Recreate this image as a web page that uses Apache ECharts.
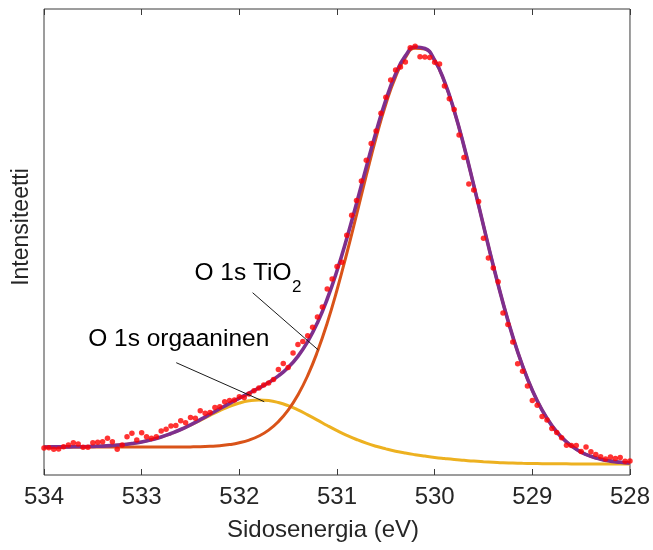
<!DOCTYPE html>
<html>
<head>
<meta charset="utf-8">
<script src="https://cdn.jsdelivr.net/npm/echarts@6/dist/echarts.min.js"></script>
<style>
  html, body { margin: 0; padding: 0; background: #ffffff; }
  #chart { width: 653px; height: 550px; }
</style>
</head>
<body>
<div id="chart"></div>
<script>
// O 1s spectrum: binding energy axis (eV), shown high -> low
const xMin = 528;
const xMax = 534;
const xTickStep = 1;
const yMax = 466; // intensity, arbitrary units

// Binding energies of the fitted curves (eV)
const fitEnergy = [
  534.0, 533.9, 533.8, 533.7, 533.6, 533.5, 533.4, 533.3, 533.2, 533.1, 533.0,
  532.9, 532.8, 532.7, 532.6, 532.5, 532.4, 532.3, 532.2, 532.1, 532.0,
  531.9, 531.8, 531.7, 531.6, 531.5, 531.4, 531.3, 531.2, 531.1, 531.0,
  530.9, 530.8, 530.7, 530.6, 530.5, 530.4, 530.3, 530.2, 530.1, 530.0,
  529.9, 529.8, 529.7, 529.6, 529.5, 529.4, 529.3, 529.2, 529.1, 529.0,
  528.9, 528.8, 528.7, 528.6, 528.5, 528.4, 528.3, 528.2, 528.1, 528.0
];

// Organic oxygen component on top of the background
const organicFit = [
  28.0, 28.1, 28.1, 28.2, 28.3, 28.6, 28.9, 29.5, 30.3, 31.5, 33.1,
  35.3, 38.0, 41.4, 45.4, 49.9, 54.7, 59.7, 64.4, 68.7, 72.0,
  74.2, 75.1, 74.5, 72.5, 69.3, 65.1, 60.1, 54.9, 49.5, 44.4,
  39.7, 35.5, 31.8, 28.7, 26.1, 23.8, 21.9, 20.3, 18.9, 17.6,
  16.5, 15.5, 14.7, 13.9, 13.3, 12.8, 12.3, 12.0, 11.7, 11.5,
  11.3, 11.2, 11.2, 11.1, 11.1, 11.0, 11.0, 11.0, 11.0, 11.0
];

// Lattice oxygen (TiO2) component on top of the background
const tio2Fit = [
  28.0, 28.0, 28.0, 28.0, 28.0, 28.0, 28.0, 28.0, 28.0, 28.0, 28.0,
  28.0, 28.0, 28.0, 28.0, 28.1, 28.3, 28.7, 29.3, 30.4, 32.2,
  34.9, 39.0, 44.9, 53.4, 64.8, 80.0, 99.4, 123.4, 152.0, 185.0,
  221.5, 260.2, 299.5, 337.1, 370.7, 398.2, 417.3, 426.8, 425.9, 414.4,
  393.3, 364.2, 328.9, 289.9, 249.4, 209.5, 172.1, 138.4, 109.2, 84.7,
  64.9, 49.4, 37.7, 29.1, 22.9, 18.7, 15.8, 13.9, 12.7, 12.0
];

// Sum of both components (fit envelope)
const envelopeFit = [
  28.0, 28.1, 28.1, 28.2, 28.3, 28.6, 28.9, 29.5, 30.3, 31.5, 33.1,
  35.3, 38.0, 41.5, 45.5, 50.2, 55.3, 60.7, 66.2, 71.6, 76.8,
  81.9, 87.0, 92.5, 99.1, 107.5, 118.7, 133.4, 152.3, 176.0, 204.2,
  236.5, 271.6, 307.8, 343.0, 374.8, 400.9, 419.1, 428.0, 426.5, 414.8,
  393.6, 364.3, 329.0, 289.9, 249.4, 209.5, 172.1, 138.4, 109.2, 84.7,
  64.9, 49.4, 37.7, 29.1, 22.9, 18.7, 15.8, 13.9, 12.7, 12.0
];

// Measured spectrum, 0.05 eV steps
const measEnergy = [
  534.00, 533.95, 533.90, 533.85, 533.80, 533.75, 533.70, 533.65, 533.60, 533.55,
  533.50, 533.45, 533.40, 533.35, 533.30, 533.25, 533.20, 533.15, 533.10, 533.05,
  533.00, 532.95, 532.90, 532.85, 532.80, 532.75, 532.70, 532.65, 532.60, 532.55,
  532.50, 532.45, 532.40, 532.35, 532.30, 532.25, 532.20, 532.15, 532.10, 532.05,
  532.00, 531.95, 531.90, 531.85, 531.80, 531.75, 531.70, 531.65, 531.60, 531.55,
  531.50, 531.45, 531.40, 531.35, 531.30, 531.25, 531.20, 531.15, 531.10, 531.05,
  531.00, 530.95, 530.90, 530.85, 530.80, 530.75, 530.70, 530.65, 530.60, 530.55,
  530.50, 530.45, 530.40, 530.35, 530.30, 530.25, 530.20, 530.15, 530.10, 530.05,
  530.00, 529.95, 529.90, 529.85, 529.80, 529.75, 529.70, 529.65, 529.60, 529.55,
  529.50, 529.45, 529.40, 529.35, 529.30, 529.25, 529.20, 529.15, 529.10, 529.05,
  529.00, 528.95, 528.90, 528.85, 528.80, 528.75, 528.70, 528.65, 528.60, 528.55,
  528.50, 528.45, 528.40, 528.35, 528.30, 528.25, 528.20, 528.15, 528.10, 528.05,
  528.00
];
const measIntensity = [
  27.0, 27.3, 25.7, 26.0, 28.3, 30.0, 32.3, 31.0, 27.7, 27.7,
  32.3, 32.7, 33.3, 36.7, 33.3, 25.7, 30.0, 38.3, 41.7, 35.0,
  42.3, 38.3, 36.7, 38.3, 44.0, 45.7, 49.0, 49.5, 54.3, 52.3,
  57.5, 56.7, 64.3, 61.7, 62.5, 67.5, 68.3, 73.3, 74.5, 75.0,
  78.3, 77.5, 81.0, 84.2, 87.0, 90.0, 92.1, 95.4, 105.5, 111.6,
  107.5, 121.9, 130.6, 133.4, 139.3, 147.7, 157.9, 167.9, 186.0, 196.0,
  208.5, 212.8, 239.7, 259.8, 274.6, 293.9, 314.8, 331.4, 344.0, 361.8,
  377.8, 395.1, 404.9, 408.0, 413.0, 427.3, 428.8, 418.2, 418.0, 417.4,
  412.8, 410.9, 389.0, 376.3, 365.6, 339.9, 317.5, 291.0, 285.0, 273.6,
  236.8, 217.1, 207.0, 193.2, 162.1, 150.6, 133.0, 111.2, 103.8, 89.0,
  74.5, 69.8, 58.6, 54.9, 46.4, 42.6, 37.2, 29.8, 29.5, 29.6,
  23.6, 27.9, 23.3, 20.6, 18.2, 16.1, 18.0, 16.6, 17.5, 13.8,
  14.0
];

// Text
const xTitle = 'Sidosenergia (eV)';
const yTitle = 'Intensiteetti';

// Peak labels with leader lines, in data coordinates (eV, intensity)
const peakLabels = [
  { text: 'O 1s TiO', sub: '2', at: [532.459, 201.3], from: [531.864, 182.3], to: [531.191, 125.0] },
  { text: 'O 1s orgaaninen', sub: '', at: [533.548, 136.0], from: [532.646, 112.3], to: [531.745, 73.3] }
];

const FONT = '"Liberation Sans", Arial, Helvetica, sans-serif';
const AXIS_COLOR = '#262626';
const BOX_COLOR = '#3a3a3a';
const COLORS = { envelope: '#7E2F8E', tio2: '#D95319', organic: '#EDB120', meas: '#FF0000' };

const pairs = (xs, ys) => xs.map((x, i) => [x, ys[i]]);

const chart = echarts.init(document.getElementById('chart'), null, { renderer: 'canvas' });

const xAxisBase = {
  type: 'value',
  min: xMin,
  max: xMax,
  interval: xTickStep,
  inverse: true,
  axisLine: { show: false },
  axisTick: { show: true, inside: true, length: 6, lineStyle: { color: BOX_COLOR, width: 1 } },
  splitLine: { show: false }
};

chart.setOption({
  animation: false,
  backgroundColor: '#ffffff',
  grid: {
    left: 44, right: 21, top: 9, bottom: 75,
    show: true, borderColor: BOX_COLOR, borderWidth: 1, backgroundColor: 'transparent'
  },
  xAxis: [
    Object.assign({}, xAxisBase, {
      position: 'bottom',
      axisLabel: {
        show: true, margin: 10, color: AXIS_COLOR, fontSize: 24, fontFamily: FONT,
        showMinLabel: true, showMaxLabel: true
      }
    }),
    Object.assign({}, xAxisBase, { position: 'top', axisLabel: { show: false } })
  ],
  yAxis: {
    type: 'value', min: 0, max: yMax,
    axisLine: { show: false }, axisTick: { show: false },
    axisLabel: { show: false }, splitLine: { show: false }
  },
  series: [
    {
      name: 'O 1s orgaaninen', type: 'line', data: pairs(fitEnergy, organicFit),
      smooth: true, showSymbol: false, z: 2,
      lineStyle: { color: COLORS.organic, width: 3 }
    },
    {
      name: 'O 1s TiO2', type: 'line', data: pairs(fitEnergy, tio2Fit),
      smooth: true, showSymbol: false, z: 3,
      lineStyle: { color: COLORS.tio2, width: 3 }
    },
    {
      name: 'Sovite', type: 'line', data: pairs(fitEnergy, envelopeFit),
      smooth: true, showSymbol: false, z: 4,
      lineStyle: { color: COLORS.envelope, width: 3.6 }
    },
    {
      name: 'Mitattu', type: 'scatter', data: pairs(measEnergy, measIntensity),
      symbol: 'circle', symbolSize: 5.5, z: 5,
      itemStyle: { color: COLORS.meas }
    }
  ]
});

// Axis titles and peak labels
const measure = document.createElement('canvas').getContext('2d');
const toPx = (p) => chart.convertToPixel({ xAxisIndex: 0, yAxisIndex: 0 }, p);
const elements = [];

elements.push({
  type: 'text', x: 323, y: 530,
  style: { text: xTitle, fill: AXIS_COLOR, fontSize: 24, fontFamily: FONT, align: 'center', verticalAlign: 'middle' }
});
elements.push({
  type: 'text', x: 22, y: 227, rotation: Math.PI / 2,
  style: { text: yTitle, fill: AXIS_COLOR, fontSize: 23, fontFamily: FONT, align: 'center', verticalAlign: 'middle' }
});

const LABEL_SIZE = 24.5;
peakLabels.forEach((lab) => {
  const a = toPx(lab.from);
  const b = toPx(lab.to);
  elements.push({
    type: 'line', z: 10,
    shape: { x1: a[0], y1: a[1], x2: b[0], y2: b[1] },
    style: { stroke: '#1a1a1a', lineWidth: 1 }
  });
  const t = toPx(lab.at);
  elements.push({
    type: 'text', x: t[0], y: t[1], z: 10,
    style: { text: lab.text, fill: '#000000', fontSize: LABEL_SIZE, fontFamily: FONT, align: 'left', verticalAlign: 'middle' }
  });
  if (lab.sub) {
    measure.font = LABEL_SIZE + 'px ' + FONT;
    const w = measure.measureText(lab.text).width;
    elements.push({
      type: 'text', x: t[0] + w + 0.5, y: t[1] + 14, z: 10,
      style: { text: lab.sub, fill: '#000000', fontSize: 17, fontFamily: FONT, align: 'left', verticalAlign: 'middle' }
    });
  }
});

chart.setOption({ graphic: { elements: elements } });
</script>
</body>
</html>
